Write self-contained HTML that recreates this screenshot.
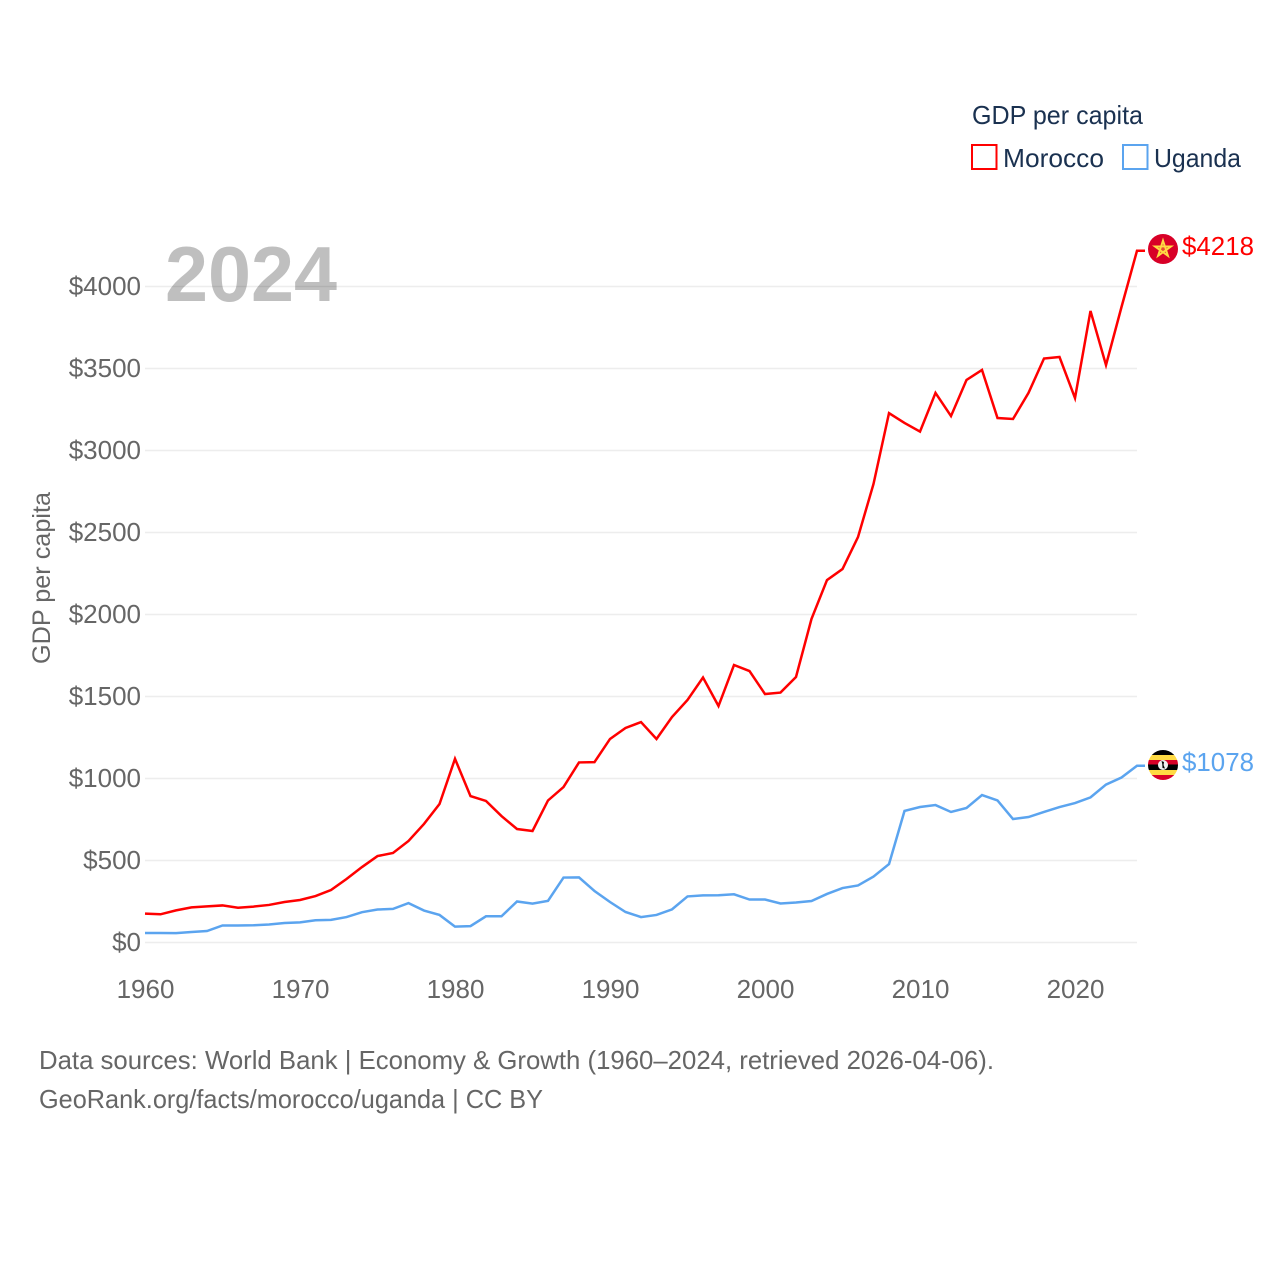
<!DOCTYPE html>
<html lang="en">
<head>
<meta charset="utf-8">
<title>GDP per capita: Morocco and Uganda</title>
<style>
html,body{margin:0;padding:0;background:#fff;}
svg{display:block;font-family:"Liberation Sans",Arial,sans-serif;}
</style>
</head>
<body>
<svg id="chart" xmlns="http://www.w3.org/2000/svg" width="1280" height="1280" viewBox="0 0 1280 1280">
  <rect x="0" y="0" width="1280" height="1280" fill="#fff"/>
  <text x="165" y="301" font-size="78" font-weight="700" fill="#bfbfbf" textLength="172" lengthAdjust="spacingAndGlyphs">2024</text>
  <g id="grid"></g>
  <g id="yticks"></g>
  <g id="xticks"></g>
  <text transform="translate(50,578) rotate(-90)" text-anchor="middle" font-size="25" fill="#666" textLength="172" lengthAdjust="spacingAndGlyphs">GDP per capita</text>
  <g id="series"></g>

  <g>
    <text x="972" y="124" font-size="26" fill="#1a3150" textLength="171" lengthAdjust="spacingAndGlyphs">GDP per capita</text>
    <g>
      <rect x="972" y="145" width="24.5" height="24" fill="#fff" stroke="#ff0000" stroke-width="2"/>
      <text x="1003" y="167" font-size="26" fill="#1a3150" textLength="101" lengthAdjust="spacingAndGlyphs">Morocco</text>
    </g>
    <g>
      <rect x="1123" y="145" width="24.5" height="24" fill="#fff" stroke="#5ba4ef" stroke-width="2"/>
      <text x="1154" y="167" font-size="26" fill="#1a3150" textLength="87" lengthAdjust="spacingAndGlyphs">Uganda</text>
    </g>
  </g>

  <defs>
    <clipPath id="clip-ug"><circle cx="1163" cy="765" r="15"/></clipPath>
  </defs>
  <g>
    <circle cx="1163" cy="249" r="15" fill="#d80027"/>
    <polygon points="1163,240.5 1168,255.9 1154.9,246.4 1171.1,246.4 1158,255.9" fill="#ffda44" fill-opacity="0.35" stroke="#ffda44" stroke-width="1.9"/>
  </g>
  <g clip-path="url(#clip-ug)">
    <rect x="1147" y="750" width="32" height="5" fill="#000"/>
    <rect x="1147" y="755" width="32" height="5" fill="#ffda44"/>
    <rect x="1147" y="760" width="32" height="4.5" fill="#d80027"/>
    <rect x="1147" y="764.5" width="32" height="5.5" fill="#000"/>
    <rect x="1147" y="770" width="32" height="5" fill="#ffda44"/>
    <rect x="1147" y="775" width="32" height="5" fill="#d80027"/>
    <circle cx="1163" cy="765" r="5" fill="#f0f0f0"/>
    <path d="M1161.5 761 L1164 762 L1163.5 765 L1165 768.5 L1162.5 768 L1162.3 764 Z" fill="#000"/>
  </g>
  <text x="1182" y="255" font-size="26" fill="#ff0000" textLength="72" lengthAdjust="spacingAndGlyphs">$4218</text>
  <text x="1182" y="771" font-size="26" fill="#5ba4ef" textLength="72" lengthAdjust="spacingAndGlyphs">$1078</text>

  <text x="39" y="1069" font-size="26" fill="#666" textLength="955" lengthAdjust="spacingAndGlyphs">Data sources: World Bank | Economy &amp; Growth (1960–2024, retrieved 2026-04-06).</text>
  <text x="39" y="1108" font-size="26" fill="#666" textLength="504" lengthAdjust="spacingAndGlyphs">GeoRank.org/facts/morocco/uganda | CC BY</text>
</svg>
<script>
const years = [1960,1961,1962,1963,1964,1965,1966,1967,1968,1969,1970,1971,1972,1973,1974,1975,1976,1977,1978,1979,1980,1981,1982,1983,1984,1985,1986,1987,1988,1989,1990,1991,1992,1993,1994,1995,1996,1997,1998,1999,2000,2001,2002,2003,2004,2005,2006,2007,2008,2009,2010,2011,2012,2013,2014,2015,2016,2017,2018,2019,2020,2021,2022,2023,2024];
const moroccoValues = [176,172,196,214,220,226,212,219,229,247,259,283,320,387,460,527,546,619,723,844,1120,893,863,771,692,680,866,948,1098,1100,1241,1308,1344,1241,1375,1479,1616,1442,1692,1655,1515,1524,1619,1973,2210,2277,2472,2796,3228,3168,3115,3351,3210,3430,3491,3198,3192,3351,3561,3570,3320,3851,3521,3875,4218];
const ugandaValues = [58,58,57,64,70,104,104,105,110,119,123,136,138,155,185,201,205,240,195,168,97,100,160,160,250,237,254,396,397,314,247,186,155,168,202,281,287,288,294,262,262,238,244,253,296,332,348,402,478,802,826,838,796,820,899,866,753,765,796,826,850,885,963,1006,1078];
const yTickValues = [0,500,1000,1500,2000,2500,3000,3500,4000];
const xTickValues = [1960,1970,1980,1990,2000,2010,2020];

const NS = 'http://www.w3.org/2000/svg';
function xScale(year){ return 145 + (year - 1960) * 15.5; }
function yScale(value){ return 942.5 - value * 0.164; }

const gridGroup = document.getElementById('grid');
const yTickGroup = document.getElementById('yticks');
const xTickGroup = document.getElementById('xticks');
const seriesGroup = document.getElementById('series');

yTickValues.forEach(function(v){
  const line = document.createElementNS(NS,'line');
  
  
  line.setAttribute('x1', xScale(years[0]));
  line.setAttribute('x2', xScale(years[years.length-1]));
  line.setAttribute('y1', yScale(v));
  line.setAttribute('y2', yScale(v));
  line.setAttribute('stroke', '#000');
  line.setAttribute('stroke-opacity', '0.07');
  line.setAttribute('stroke-width', '1.5');
  gridGroup.appendChild(line);

  const label = document.createElementNS(NS,'text');
  
  
  label.setAttribute('x', 141);
  label.setAttribute('y', yScale(v) + 8.5);
  label.setAttribute('text-anchor', 'end');
  label.setAttribute('font-size', '26');
  label.setAttribute('fill', '#666');
  label.textContent = '$' + v;
  yTickGroup.appendChild(label);
});

xTickValues.forEach(function(y){
  const label = document.createElementNS(NS,'text');
  
  
  label.setAttribute('x', xScale(y) + 0.5);
  label.setAttribute('y', 998);
  label.setAttribute('text-anchor', 'middle');
  label.setAttribute('font-size', '26');
  label.setAttribute('fill', '#666');
  label.textContent = String(y);
  xTickGroup.appendChild(label);
});

function linePoints(values){
  const pts = values.map(function(v,i){ return xScale(years[i]).toFixed(2) + ',' + yScale(v).toFixed(2); });
  const lastX = xScale(years[years.length-1]);
  pts.push((lastX + 8).toFixed(2) + ',' + yScale(values[values.length-1]).toFixed(2));
  return pts.join(' ');
}

const moroccoLine = document.createElementNS(NS,'polyline');


moroccoLine.setAttribute('points', linePoints(moroccoValues));
moroccoLine.setAttribute('fill', 'none');
moroccoLine.setAttribute('stroke', '#ff0000');
moroccoLine.setAttribute('stroke-width', '2.5');
seriesGroup.appendChild(moroccoLine);

const ugandaLine = document.createElementNS(NS,'polyline');


ugandaLine.setAttribute('points', linePoints(ugandaValues));
ugandaLine.setAttribute('fill', 'none');
ugandaLine.setAttribute('stroke', '#5ba4ef');
ugandaLine.setAttribute('stroke-width', '2.5');
seriesGroup.appendChild(ugandaLine);
</script>
</body>
</html>
